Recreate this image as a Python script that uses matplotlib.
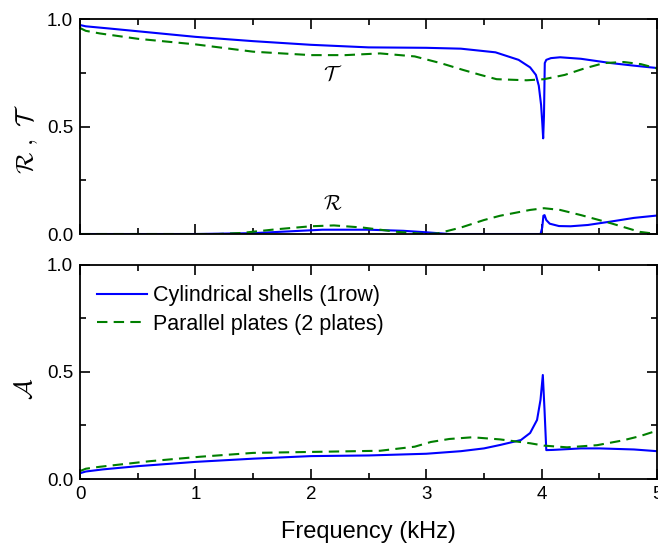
import matplotlib
matplotlib.use("Agg")
import matplotlib.pyplot as plt
from matplotlib.ticker import MultipleLocator

plt.rcParams['font.family'] = ['Liberation Sans', 'DejaVu Sans']
plt.rcParams['mathtext.fontset'] = 'cm'

# cylindrical shells (1 row) - transmission, reflection, absorption
f_cyl_T = [0, 0.05, 0.25, 0.5, 1.0, 1.5, 2.0, 2.5, 3.0, 3.3, 3.6, 3.8, 3.9, 3.95,
           3.975, 3.995, 4.005, 4.013, 4.02, 4.027, 4.04, 4.08, 4.16, 4.34, 4.6, 4.8, 5.0]
cyl_T = [0.972, 0.966, 0.956, 0.943, 0.917, 0.897, 0.88, 0.868, 0.866, 0.862, 0.845,
         0.81, 0.775, 0.74, 0.69, 0.60, 0.52, 0.445, 0.55, 0.795, 0.81, 0.818, 0.822,
         0.815, 0.795, 0.783, 0.772]

f_cyl_R = [0, 1.0, 1.5, 1.8, 2.1, 2.5, 2.8, 3.0, 3.2, 3.99, 4.005, 4.015, 4.025,
           4.04, 4.07, 4.15, 4.25, 4.4, 4.6, 4.8, 5.0]
cyl_R = [0, 0, 0.004, 0.012, 0.02, 0.02, 0.015, 0.008, 0.0, 0.0, 0.03, 0.085, 0.088,
         0.065, 0.048, 0.037, 0.036, 0.042, 0.058, 0.075, 0.086]

f_cyl_A = [0, 0.05, 0.2, 0.5, 1.0, 1.5, 2.0, 2.5, 3.0, 3.3, 3.5, 3.64, 3.82, 3.9,
           3.96, 3.99, 4.01, 4.025, 4.04, 4.1, 4.34, 4.5, 4.8, 5.0]
cyl_A = [0.027, 0.035, 0.045, 0.06, 0.08, 0.095, 0.107, 0.11, 0.118, 0.13, 0.143,
         0.159, 0.182, 0.215, 0.276, 0.37, 0.486, 0.32, 0.135, 0.136, 0.143, 0.143,
         0.138, 0.13]

# parallel plates (2 plates)
f_pl_T = [0, 0.05, 0.17, 0.5, 1.0, 1.5, 2.0, 2.3, 2.6, 2.9, 3.13, 3.32, 3.47, 3.61,
          3.87, 4.02, 4.2, 4.37, 4.54, 4.71, 4.86, 5.0]
pl_T = [0.958, 0.945, 0.933, 0.908, 0.882, 0.848, 0.832, 0.832, 0.84, 0.826, 0.794,
        0.763, 0.74, 0.72, 0.715, 0.72, 0.74, 0.77, 0.795, 0.80, 0.79, 0.77]

f_pl_R = [0, 1.2, 1.4, 1.7, 2.0, 2.2, 2.45, 2.75, 3.0, 3.1, 3.3, 3.5, 3.64, 3.9,
          4.02, 4.16, 4.34, 4.6, 4.85, 5.0]
pl_R = [0, 0, 0.005, 0.022, 0.036, 0.04, 0.03, 0.01, 0.0, 0.003, 0.03, 0.065, 0.085,
        0.112, 0.12, 0.112, 0.088, 0.05, 0.01, 0.0]

f_pl_A = [0, 0.05, 0.17, 0.6, 1.04, 1.5, 2.17, 2.6, 2.9, 3.04, 3.2, 3.4, 3.64, 3.9,
          4.02, 4.22, 4.48, 4.7, 4.85, 5.0]
pl_A = [0.037, 0.048, 0.057, 0.083, 0.104, 0.122, 0.128, 0.132, 0.151, 0.173, 0.187,
        0.195, 0.185, 0.167, 0.156, 0.148, 0.158, 0.18, 0.2, 0.226]

labels = ['Cylindrical shells (1row)', 'Parallel plates (2 plates)']

fig = plt.figure(figsize=(6.58, 5.46), dpi=100)
ax1 = fig.add_axes([0.1216, 0.5714, 0.877, 0.3938])
ax2 = fig.add_axes([0.1216, 0.1227, 0.877, 0.392])

blue = '#0000ff'
green = '#007f00'

ax1.plot(f_cyl_T, cyl_T, '-', color=blue, lw=1.5)
ax1.plot(f_pl_T, pl_T, '--', color=green, lw=1.5, dashes=(5, 3))
ax1.plot(f_cyl_R, cyl_R, '-', color=blue, lw=1.5)
ax1.plot(f_pl_R, pl_R, '--', color=green, lw=1.5, dashes=(5, 3))
ax1.text(2.19, 0.74, r'$\mathcal{T}$', fontsize=15, ha='center', va='center')
ax1.text(2.19, 0.135, r'$\mathcal{R}$', fontsize=15, ha='center', va='center')

ax2.plot(f_cyl_A, cyl_A, '-', color=blue, lw=1.5, label=labels[0])
ax2.plot(f_pl_A, pl_A, '--', color=green, lw=1.5, dashes=(5, 3), label=labels[1])
ax2.legend(loc='upper left', bbox_to_anchor=(0.004, 0.975), frameon=False,
           fontsize=15.5, handlelength=2.3, handletextpad=0.3, borderaxespad=0.3,
           labelspacing=0.35)

for ax in (ax1, ax2):
    ax.set_xlim(0, 5)
    ax.set_ylim(0, 1)
    ax.xaxis.set_major_locator(MultipleLocator(1))
    ax.xaxis.set_minor_locator(MultipleLocator(0.5))
    ax.yaxis.set_major_locator(MultipleLocator(0.5))
    ax.yaxis.set_minor_locator(MultipleLocator(0.25))
    ax.tick_params(which='both', direction='in', top=True, right=True,
                   width=1.2, labelsize=13.5, pad=5)
    ax.tick_params(which='major', length=7)
    ax.tick_params(which='minor', length=4)
    for s in ax.spines.values():
        s.set_linewidth(1.3)
    ax.yaxis.set_major_formatter(plt.FormatStrFormatter('%.1f'))

ax1.tick_params(labelbottom=False)
ax1.set_ylabel(r'$\mathcal{R}\ ,\ \mathcal{T}$', fontsize=18)
ax1.yaxis.set_label_coords(-0.07, 0.44)
ax2.set_ylabel(r'$\mathcal{A}$', fontsize=18)
ax2.yaxis.set_label_coords(-0.075, 0.42)
ax2.set_xlabel('Frequency (kHz)', fontsize=17, labelpad=13)

fig.savefig('out.png', dpi=100)
